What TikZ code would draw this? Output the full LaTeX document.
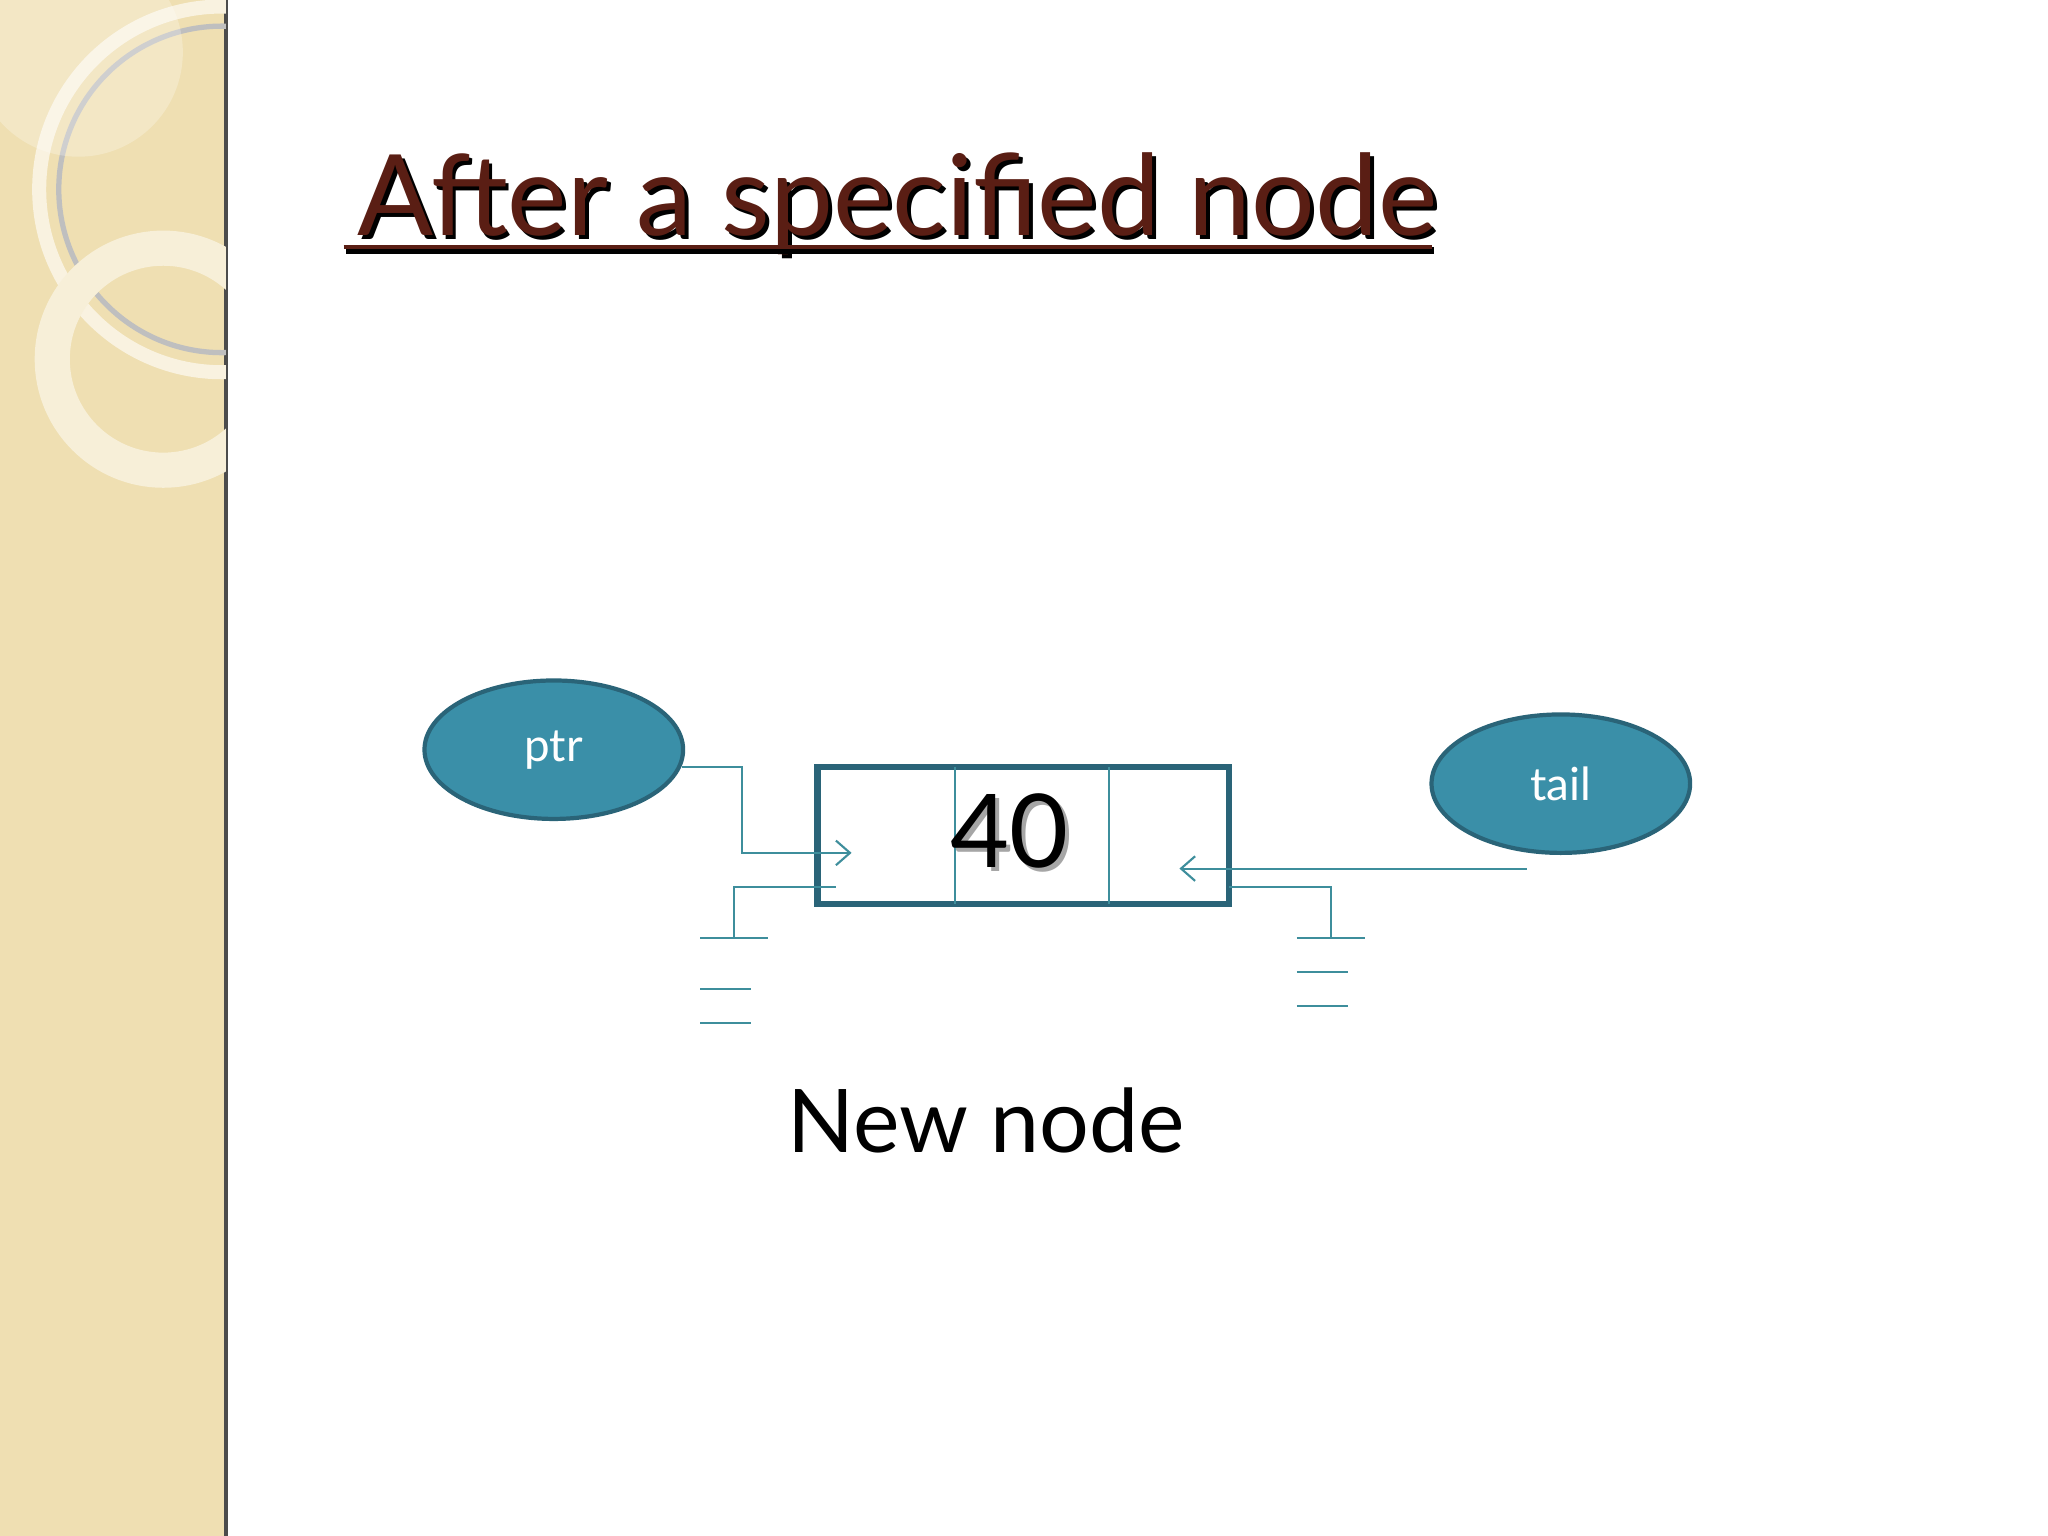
\documentclass[tikz,border=0pt]{standalone}
\usepackage{fontspec}
\setmainfont{Lato}
\usetikzlibrary{arrows.meta,shapes.geometric}
\definecolor{side}{HTML}{EFDFB2}
\definecolor{teal}{HTML}{3A8FA8}
\definecolor{tealdk}{HTML}{2A6478}
\definecolor{line}{HTML}{3E8E9C}
\definecolor{brown}{HTML}{5A1E14}
\tikzset{
  ell/.style={ellipse,draw=tealdk,line width=1.2pt,fill=teal,minimum width=198*0.01306cm,minimum height=106*0.01306cm,text=white,font=\fontsize{13}{15}\selectfont},
  conn/.style={draw=line,line width=0.6pt},
  arr/.style={conn,-{Straight Barb[length=4pt,width=7pt]}},
  ttl/.style={anchor=base west,font=\fontsize{32}{38}\selectfont},
}
\begin{document}
\begin{tikzpicture}[x=0.01306cm,y=-0.01306cm]
\useasboundingbox (0,0) rectangle (1568,1176);
\fill[white] (0,0) rectangle (1568,1176);
\fill[side] (0,0) rectangle (173,1176);
\draw[black!70,line width=1pt] (173,0) -- (173,1176);
\begin{scope}
\clip (0,0) rectangle (173,1176);
\draw[white!60!side,line width=4pt] (170,145) circle (140);
\draw[black!25,line width=1.5pt] (170,145) circle (125);
\draw[black!12,line width=1pt] (125,275) circle (93);
\draw[white!50!side,line width=10pt] (125,275) circle (85);
\fill[white,opacity=0.25] (60,40) circle (80);
\end{scope}
\node[ttl,text=black] at (267,183) {After a specified node};
\node[ttl,text=brown] (title) at (264,180) {After a specified node};
\draw[black,line width=2pt] (265,192) -- (1098,192);
\draw[brown,line width=1.2pt] (263,189) -- (1096,189);
\node[ell] (ptr) at (424,574) {ptr};
\node[ell] (tail) at (1195,600) {tail};
\draw[tealdk,line width=1.8pt] (626,587) rectangle (941,692);
\draw[conn] (731,587) -- (731,692) (849,587) -- (849,692);
\node[font=\fontsize{29}{34}\selectfont,text=black!35] at (776,639) {40};
\node[font=\fontsize{29}{34}\selectfont] (val) at (773,636) {40};
\coordinate (p1) at (522,587);
\coordinate (p2) at (652,653);
\draw[arr] (p1) -- (568,587) -- (568,653) -- (p2);
\coordinate (t1) at (1169,665);
\coordinate (t2) at (903,665);
\draw[arr] (t1) -- (t2);
\coordinate (g1) at (640,679);
\draw[conn] (g1) -- (562,679) -- (562,718);
\draw[conn] (536,718) -- (588,718) (536,757) -- (575,757) (536,783) -- (575,783);
\coordinate (g2) at (941,679);
\draw[conn] (g2) -- (1019,679) -- (1019,718);
\draw[conn] (993,718) -- (1045,718) (993,744) -- (1032,744) (993,770) -- (1032,770);
\node[font=\fontsize{25}{30}\selectfont] (nn) at (755,858) {New node};
\end{tikzpicture}
\end{document}
